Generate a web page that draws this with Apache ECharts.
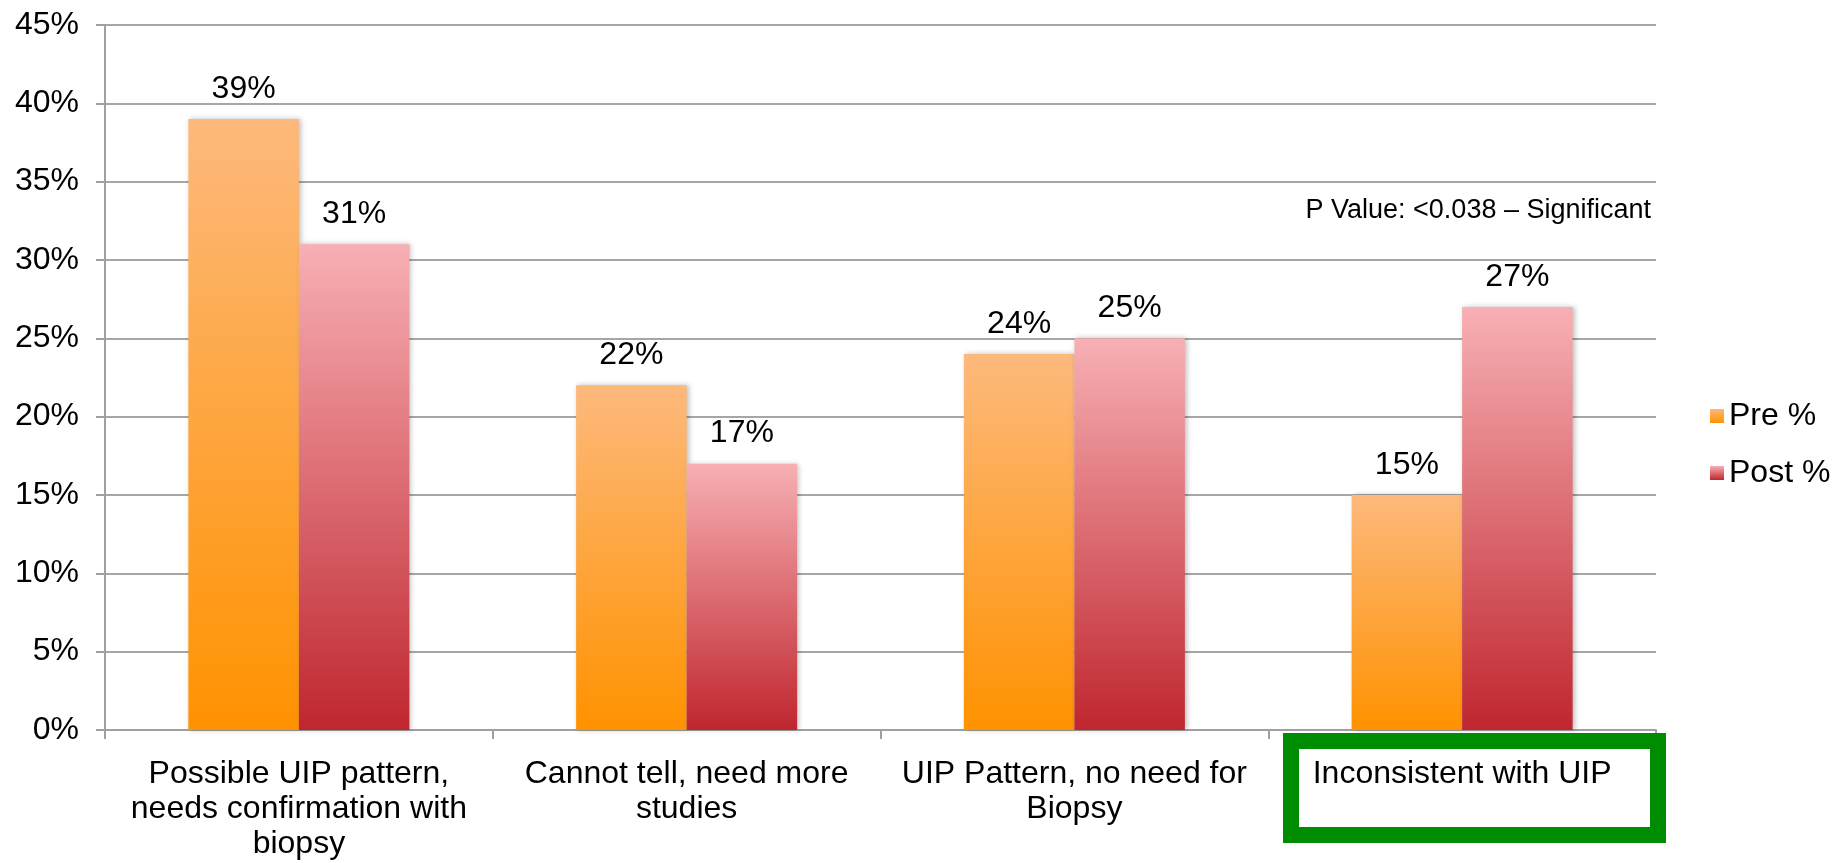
<!DOCTYPE html>
<html>
<head>
<meta charset="utf-8">
<title>UIP pattern assessment: pre vs post</title>
<script src="https://cdn.jsdelivr.net/npm/echarts@6/dist/echarts.min.js"></script>
<style>
  html, body { margin: 0; padding: 0; background: #ffffff; }
  #chart { width: 1835px; height: 863px; }
</style>
</head>
<body>
<div id="chart"></div>
<script>
// Categories (line breaks as printed under the axis)
const categories = [
  'Possible UIP pattern,\nneeds confirmation with\nbiopsy',
  'Cannot tell, need more\nstudies',
  'UIP Pattern, no need for\nBiopsy',
  'Inconsistent with UIP'
];

// Percentages for each group
const preValues = [39, 22, 24, 15];
const postValues = [31, 17, 25, 27];

// Y axis ticks (percent)
const yMin = 0;
const yMax = 45;
const yStep = 5;

const seriesNames = ['Pre %', 'Post %'];
const pValueNote = 'P Value: <0.038 \u2013 Significant';

const FONT = "'Liberation Sans', Arial, Helvetica, sans-serif";

const preFill = new echarts.graphic.LinearGradient(0, 0, 0, 1, [
  { offset: 0, color: '#FDB97C' },
  { offset: 1, color: '#FF9200' }
]);
const postFill = new echarts.graphic.LinearGradient(0, 0, 0, 1, [
  { offset: 0, color: '#F7B0B4' },
  { offset: 1, color: '#C0262F' }
]);

const chart = echarts.init(document.getElementById('chart'), null, { renderer: 'canvas' });

const barLabel = {
  show: true,
  position: 'top',
  distance: 14,
  formatter: '{c}%',
  color: '#000000',
  fontFamily: FONT,
  fontSize: 32
};

const barShadow = {
  shadowBlur: 5,
  shadowColor: 'rgba(0,0,0,0.25)',
  shadowOffsetX: 2,
  shadowOffsetY: 0
};

chart.setOption({
  animation: false,
  backgroundColor: '#ffffff',
  grid: { left: 105, right: 179, top: 25, bottom: 133, containLabel: false },
  legend: {
    orient: 'vertical',
    left: 1705,
    top: 395,
    icon: 'rect',
    itemWidth: 14,
    itemHeight: 14,
    itemGap: 25,
    textStyle: { fontFamily: FONT, fontSize: 32, color: '#000000', lineHeight: 32 },
    data: seriesNames
  },
  xAxis: {
    type: 'category',
    data: categories,
    axisLine: { show: true, lineStyle: { color: '#A0A0A0', width: 2 } },
    axisTick: { show: true, length: 9, lineStyle: { color: '#A0A0A0', width: 2 } },
    axisLabel: {
      interval: 0,
      margin: 27,
      color: '#000000',
      fontFamily: FONT,
      fontSize: 32,
      lineHeight: 35,
      align: 'center'
    }
  },
  yAxis: {
    type: 'value',
    min: yMin,
    max: yMax,
    interval: yStep,
    axisLine: { show: true, lineStyle: { color: '#A0A0A0', width: 2 } },
    axisTick: { show: true, length: 9, lineStyle: { color: '#A0A0A0', width: 2 } },
    splitLine: { show: true, lineStyle: { color: '#A6A6A6', width: 2 } },
    axisLabel: {
      margin: 26,
      formatter: '{value}%',
      color: '#000000',
      fontFamily: FONT,
      fontSize: 32
    }
  },
  series: [
    {
      name: seriesNames[0],
      type: 'bar',
      data: preValues,
      barGap: '0%',
      barCategoryGap: '43%',
      itemStyle: Object.assign({ color: preFill }, barShadow),
      label: barLabel
    },
    {
      name: seriesNames[1],
      type: 'bar',
      data: postValues,
      barGap: '0%',
      barCategoryGap: '43%',
      itemStyle: Object.assign({ color: postFill }, barShadow),
      label: barLabel
    }
  ],
  graphic: [
    {
      type: 'text',
      x: 1651,
      y: 211,
      z: 10,
      style: {
        text: pValueNote,
        font: '27px ' + FONT,
        fill: '#000000',
        textAlign: 'right',
        textVerticalAlign: 'middle'
      }
    },
    {
      type: 'rect',
      z: 10,
      shape: { x: 1291, y: 741, width: 367, height: 94 },
      style: { fill: 'none', stroke: '#008C00', lineWidth: 16 }
    }
  ]
});
</script>
</body>
</html>
